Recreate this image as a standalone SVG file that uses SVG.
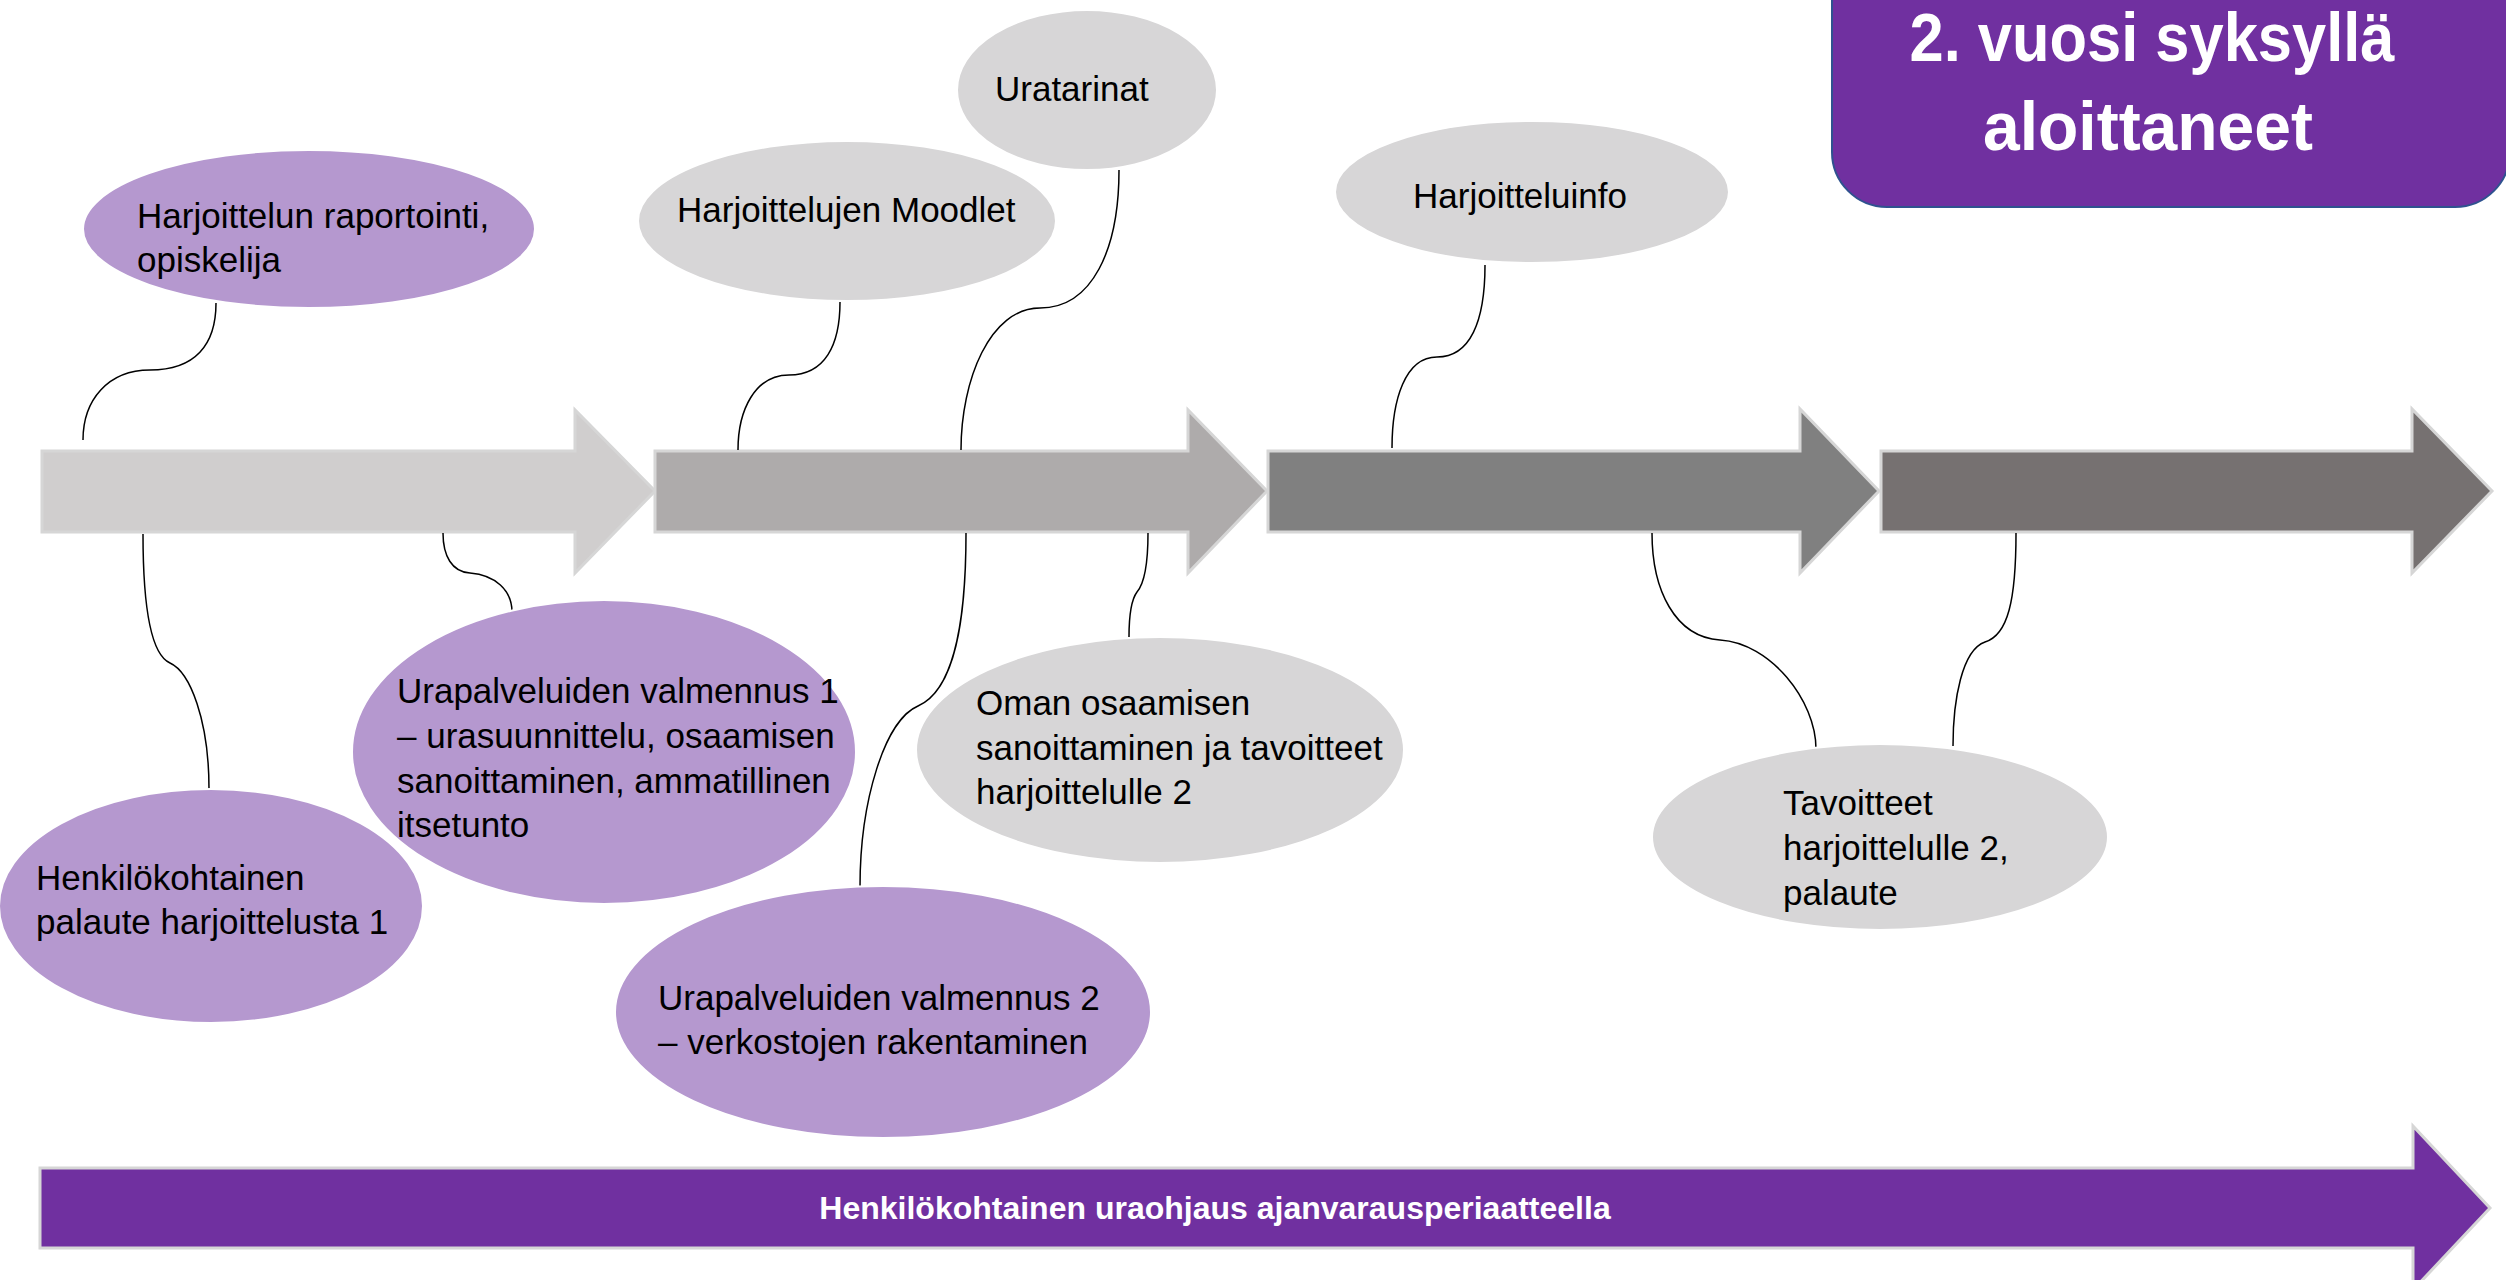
<svg xmlns="http://www.w3.org/2000/svg" width="2506" height="1280" viewBox="0 0 2506 1280">
<style>
.t{font-family:"Liberation Sans",Arial,sans-serif;font-size:35px;fill:#000}
.pe{fill:#B598CF;stroke:#fff;stroke-width:2}
.ge{fill:#D7D6D7;stroke:#fff;stroke-width:2}
.ar{stroke:#D6D6D6;stroke-width:3}
.cn{fill:none;stroke:#000;stroke-width:1.5}
.w{font-family:"Liberation Sans",Arial,sans-serif;font-weight:bold;fill:#fff}
</style>
<rect width="2506" height="1280" fill="#fff"/>
<g id="title">
<rect x="1832" y="-60" width="678" height="267" rx="55" fill="#7030A0" stroke="#2F528F" stroke-width="2"/>
<text class="w" font-size="68" x="2152" y="61" text-anchor="middle" textLength="485" lengthAdjust="spacingAndGlyphs">2. vuosi syksyllä</text>
<text class="w" font-size="68" x="2148" y="150" text-anchor="middle" textLength="330" lengthAdjust="spacingAndGlyphs">aloittaneet</text>
</g>
<g id="timeline">
<path id="arrow1" class="ar" fill="#D0CECE" d="M42,451 H575 V410 L655,491 L575,573 V532 H42 Z"/>
<path id="arrow2" class="ar" fill="#AEABAB" d="M655,451 H1188 V410 L1267,491 L1188,573 V532 H655 Z"/>
<path id="arrow3" class="ar" fill="#808080" d="M1268,451 H1800 V409 L1879,491 L1800,573 V532 H1268 Z"/>
<path id="arrow4" class="ar" fill="#767171" d="M1881,451 H2412 V409 L2492,491 L2412,573 V532 H1881 Z"/>
</g>
<g id="bottom-arrow">
<path class="ar" fill="#7030A0" d="M40,1168 H2413 V1126 L2490,1208 L2413,1290 V1248 H40 Z"/>
<text class="w" font-size="32" x="1215" y="1219" text-anchor="middle">Henkilökohtainen uraohjaus ajanvarausperiaatteella</text>
</g>
<g id="connectors">
<path class="cn" d="M216,303 C216,345 195,370 150,370 C108,370 83,400 83,440"/>
<path class="cn" d="M840,302 C840,345 825,375 789,375 C755,375 738,410 738,450"/>
<path class="cn" d="M1119,170 C1119,250 1092,308 1040,308 C990,308 961,380 961,450"/>
<path class="cn" d="M1485,265 C1485,322 1470,357 1437,357 C1405,357 1392,400 1392,448"/>
<path class="cn" d="M143,534 C143,610 152,655 170,663 C190,672 209,720 209,789"/>
<path class="cn" d="M443,533 C443,556 452,572 470,573 C495,575 512,590 512,612"/>
<path class="cn" d="M966,533 C966,620 955,690 918,706 C885,720 860,800 860,887"/>
<path class="cn" d="M1148,533 C1148,570 1143,585 1137,592 C1131,600 1129,615 1129,637"/>
<path class="cn" d="M1652,533 C1652,590 1675,637 1720,640 C1770,643 1816,700 1816,749"/>
<path class="cn" d="M2016,533 C2016,600 2008,635 1985,642 C1962,650 1953,700 1953,746"/>
</g>
<g id="n-raportointi">
<ellipse class="pe" cx="309" cy="229" rx="226" ry="79"/>
<text class="t" x="137" y="228">Harjoittelun raportointi,</text>
<text class="t" x="137" y="272">opiskelija</text>
</g>
<g id="n-moodlet">
<ellipse class="ge" cx="847" cy="221" rx="209" ry="80"/>
<text class="t" x="677" y="222">Harjoittelujen Moodlet</text>
</g>
<g id="n-uratarinat">
<ellipse class="ge" cx="1087" cy="90" rx="130" ry="80"/>
<text class="t" x="995" y="101">Uratarinat</text>
</g>
<g id="n-harjoitteluinfo">
<ellipse class="ge" cx="1532" cy="192" rx="197" ry="71"/>
<text class="t" x="1413" y="208">Harjoitteluinfo</text>
</g>
<g id="n-valmennus1">
<ellipse class="pe" cx="604" cy="752" rx="252" ry="152"/>
<text class="t" x="397" y="703">Urapalveluiden valmennus 1</text>
<text class="t" x="397" y="748">– urasuunnittelu, osaamisen</text>
<text class="t" x="397" y="793">sanoittaminen, ammatillinen</text>
<text class="t" x="397" y="837">itsetunto</text>
</g>
<g id="n-palaute1">
<ellipse class="pe" cx="211" cy="906" rx="212" ry="117"/>
<text class="t" x="36" y="890">Henkilökohtainen</text>
<text class="t" x="36" y="934">palaute harjoittelusta 1</text>
</g>
<g id="n-valmennus2">
<ellipse class="pe" cx="883" cy="1012" rx="268" ry="126"/>
<text class="t" x="658" y="1010">Urapalveluiden valmennus 2</text>
<text class="t" x="658" y="1054">– verkostojen rakentaminen</text>
</g>
<g id="n-oman">
<ellipse class="ge" cx="1160" cy="750" rx="244" ry="113"/>
<text class="t" x="976" y="715">Oman osaamisen</text>
<text class="t" x="976" y="760">sanoittaminen ja tavoitteet</text>
<text class="t" x="976" y="804">harjoittelulle 2</text>
</g>
<g id="n-tavoitteet">
<ellipse class="ge" cx="1880" cy="837" rx="228" ry="93"/>
<text class="t" x="1783" y="815">Tavoitteet</text>
<text class="t" x="1783" y="860">harjoittelulle 2,</text>
<text class="t" x="1783" y="905">palaute</text>
</g>
</svg>
